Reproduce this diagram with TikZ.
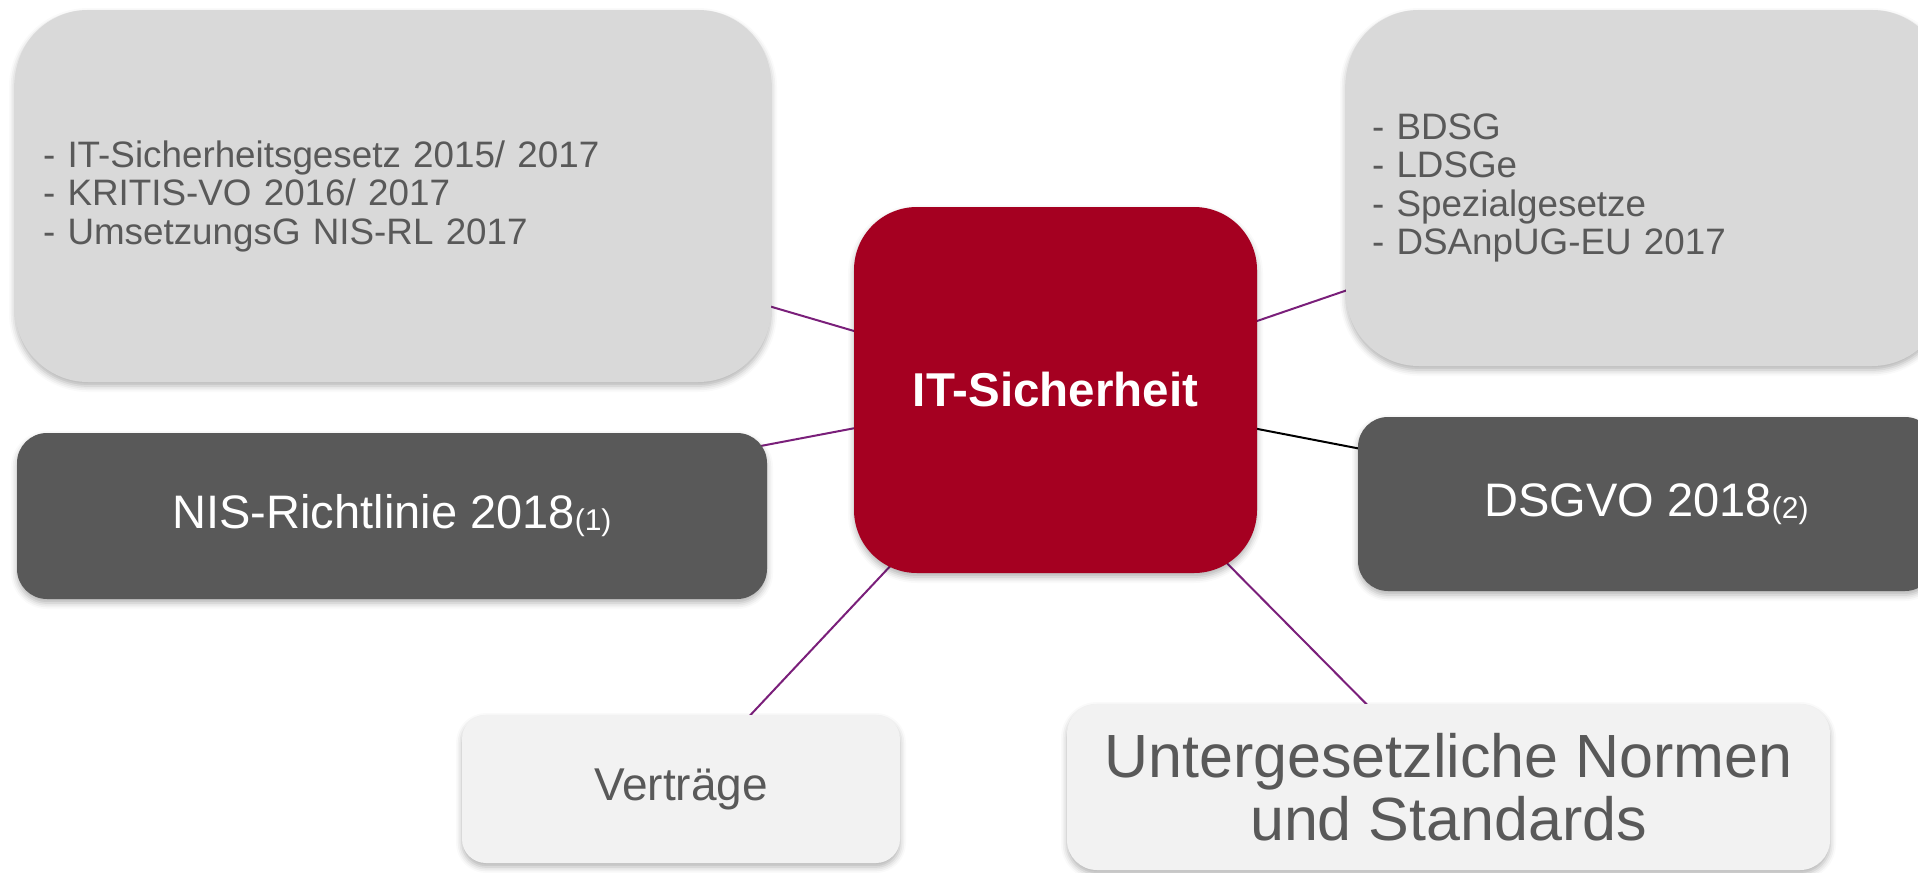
\documentclass[tikz,border=0pt]{standalone}
\usepackage{fontspec}
\setmainfont{Liberation Sans}
\usetikzlibrary{shadows.blur,backgrounds}
\definecolor{boxgray}{HTML}{D9D9D9}
\definecolor{darkbox}{HTML}{595959}
\definecolor{redbox}{HTML}{A50021}
\definecolor{lightbox}{HTML}{F2F2F2}
\definecolor{txtgray}{HTML}{595959}
\definecolor{linepurple}{HTML}{7A1F7A}
\begin{document}
\begin{tikzpicture}[x=0.5pt,y=-0.5pt,
  box/.style={draw=none, inner sep=0pt, outer sep=0pt,
    blur shadow={shadow xshift=0pt, shadow yshift=-2pt, shadow blur radius=3pt, shadow opacity=30}},
  listbox/.style={box, fill=boxgray, text=txtgray, align=left,
    font=\fontsize{18.4pt}{19.25pt}\selectfont},
  darkbx/.style={box, fill=darkbox, text=white, font=\fontsize{23.5pt}{26pt}\selectfont},
  lightbx/.style={box, fill=lightbox, text=txtgray},
  link/.style={draw=linepurple, line width=1pt}]
\useasboundingbox (0,0) rectangle (1918,873);
\clip (0,0) rectangle (1918,873);

\node[listbox, rounded corners=36.5pt, minimum height=186pt, inner xsep=14pt, text width=350pt]
  (tl) at (393,196) {- IT-Sicherheitsgesetz 2015/ 2017\\- KRITIS-VO 2016/ 2017\\- UmsetzungsG NIS-RL 2017};

\node[listbox, rounded corners=36.5pt, minimum height=178pt, inner xsep=13pt, text width=273.5pt]
  (tr) at (1645.5,188) {- BDSG\\- LDSGe\\- Spezialgesetze\\- DSAnpUG-EU 2017};

\node[box, fill=redbox, text=white, rounded corners=31.5pt, minimum width=201.5pt, minimum height=183pt,
  font=\fontsize{23.75pt}{26pt}\selectfont\bfseries]
  (c) at (1055.5,390) {IT-Sicherheit};

\node[darkbx, rounded corners=15pt, minimum width=375pt, minimum height=83pt]
  (nis) at (392,516) {NIS-Richtlinie 2018{\fontsize{15pt}{15pt}\selectfont\raisebox{-1pt}{(1)}}};

\node[darkbx, rounded corners=15pt, minimum width=288.5pt, minimum height=87pt]
  (dsg) at (1646.5,504) {DSGVO 2018{\fontsize{15pt}{15pt}\selectfont\raisebox{-1pt}{(2)}}};

\node[lightbx, rounded corners=12pt, minimum width=219pt, minimum height=74pt,
  font=\fontsize{23pt}{26pt}\selectfont]
  (vert) at (681,789) {Verträge};

\node[lightbx, rounded corners=15pt, minimum width=381.5pt, minimum height=83pt, align=center,
  font=\fontsize{30.5pt}{31.5pt}\selectfont]
  (unt) at (1448.5,787) {Untergesetzliche Normen\\und Standards};

\begin{pgfonlayer}{background}
\draw[link] (tl.center) -- (c.center);
\draw[link] (nis.center) -- (c.center);
\draw[link] (tr.center) -- (c.center);
\draw[line width=1pt, black] (dsg.center) -- (c.center);
\draw[link] (vert.center) -- (c.center);
\draw[link] (unt.center) -- (c.center);
\end{pgfonlayer}
\end{tikzpicture}
\end{document}
